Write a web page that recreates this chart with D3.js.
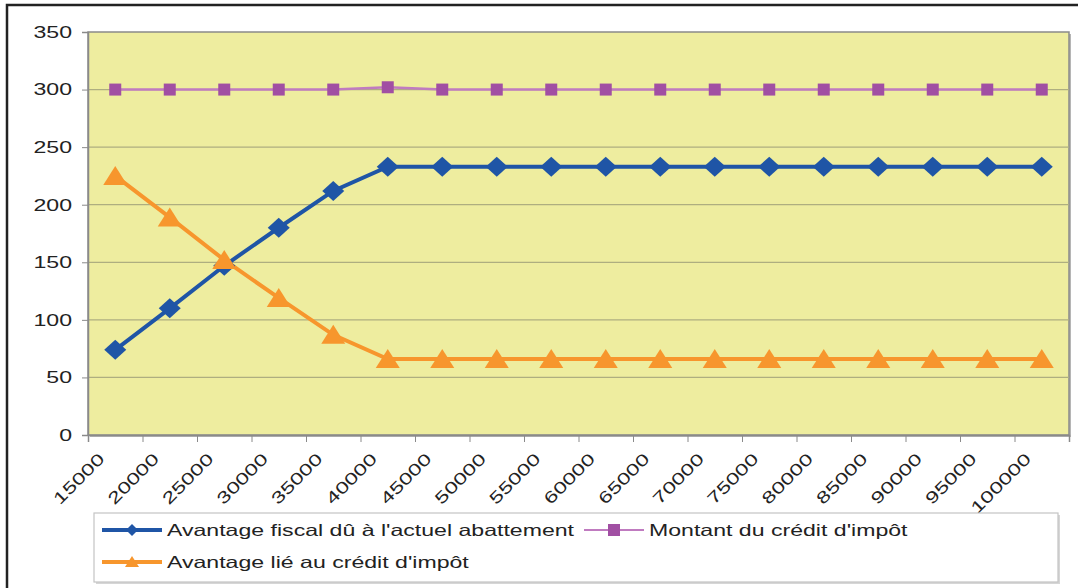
<!DOCTYPE html>
<html>
<head>
<meta charset="utf-8">
<script src="https://cdn.jsdelivr.net/npm/d3@7"></script>
<style>
  body { margin: 0; background: #fff; }
  svg { display: block; font-family: "Liberation Sans", Arial, sans-serif; }
  .axis text { fill: #222; font-size: 16.5px; }
  .axis line, .axis path { stroke: #8a8a8a; }
</style>
</head>
<body>
<svg id="chart" width="1078" height="588"></svg>
<script>
// categories (revenu) and the three series
var categories = ["15000","20000","25000","30000","35000","40000","45000","50000","55000",
                  "60000","65000","70000","75000","80000","85000","90000","95000","100000"];
var abattement = [74, 110, 147, 180, 212, 233, 233, 233, 233, 233, 233, 233, 233, 233, 233, 233, 233, 233];
var montantCredit = [300, 300, 300, 300, 300, 302, 300, 300, 300, 300, 300, 300, 300, 300, 300, 300, 300, 300];
var avantageCredit = [225, 189, 152, 119, 87, 66, 66, 66, 66, 66, 66, 66, 66, 66, 66, 66, 66, 66];
var yTicks = [0, 50, 100, 150, 200, 250, 300, 350];

var seriesNames = ["Avantage fiscal dû à l'actuel abattement", "Montant du crédit d'impôt", "Avantage lié au crédit d'impôt"];

var plot = {left: 88, right: 1069, top: 32, bottom: 435};
var stretch = "scale(1.4,1)"; // the original text is rendered wide

var svg = d3.select("#chart");

// outer frame
svg.append("rect")
  .attr("x", 7).attr("y", 5)
  .attr("width", 1100).attr("height", 620)
  .style("fill", "none").style("stroke", "#222").style("stroke-width", 2.5);

// scales
var x = d3.scaleLinear().domain([0, categories.length]).range([plot.left, plot.right]);
var y = d3.scaleLinear().domain([0, 350]).range([plot.bottom, plot.top]);

// plot area background
svg.append("rect")
  .attr("x", plot.left + 2).attr("y", plot.top + 2)
  .attr("width", plot.right - plot.left).attr("height", plot.bottom - plot.top)
  .style("fill", "#b5b5b5");
svg.append("rect")
  .attr("x", plot.left).attr("y", plot.top)
  .attr("width", plot.right - plot.left).attr("height", plot.bottom - plot.top)
  .style("fill", "#eeed9f").style("stroke", "#8a8a8a").style("stroke-width", 1.5);

// gridlines
svg.append("g").selectAll("line")
  .data(yTicks.filter(function(d) { return d > 0 && d < 350; }))
  .enter().append("line")
  .attr("x1", plot.left).attr("x2", plot.right)
  .attr("y1", function(d) { return y(d); })
  .attr("y2", function(d) { return y(d); })
  .style("stroke", "#aeae80").style("stroke-width", 1.2);

// y axis
var yAxis = d3.axisLeft(y).tickValues(yTicks).tickSize(6).tickPadding(10);
var gy = svg.append("g")
  .attr("class", "axis")
  .attr("transform", "translate(" + plot.left + ",0)")
  .call(yAxis);
gy.select(".domain").style("stroke-width", 1.5);
gy.selectAll("text")
  .attr("x", 0)
  .attr("transform", "translate(-16,0) " + stretch);

// x axis : ticks on category boundaries
var xAxis = d3.axisBottom(x)
  .tickValues(d3.range(categories.length + 1))
  .tickSize(7)
  .tickFormat(function(d) { return d < categories.length ? categories[d] : ""; });
var gx = svg.append("g")
  .attr("class", "axis")
  .attr("transform", "translate(0," + plot.bottom + ")")
  .call(xAxis);
gx.select(".domain").style("stroke-width", 1.5);
gx.selectAll("text")
  .attr("y", 0).attr("dy", 0)
  .style("text-anchor", "end")
  .attr("transform", "translate(17,25) rotate(-45) " + stretch);

var cx = function(d, i) { return x(i + 0.5); };

var lineGen = d3.line().x(cx).y(function(d) { return y(d); });

var colors = {blue: "#1f55a6", purpleLine: "#c07bc0", purple: "#a14fa3", orange: "#f7962d"};

// series lines
svg.append("path").datum(montantCredit).attr("d", lineGen)
  .style("fill", "none").style("stroke", colors.purpleLine).style("stroke-width", 2.5);
svg.append("path").datum(abattement).attr("d", lineGen)
  .style("fill", "none").style("stroke", colors.blue).style("stroke-width", 4);
svg.append("path").datum(avantageCredit).attr("d", lineGen)
  .style("fill", "none").style("stroke", colors.orange).style("stroke-width", 4);

// markers
var diamond = "M0,-10L11,0L0,10L-11,0Z";
var triangle = "M0,-10L12,9L-12,9Z";

svg.append("g").selectAll("rect")
  .data(montantCredit).enter().append("rect")
  .attr("x", function(d, i) { return cx(d, i) - 6; })
  .attr("y", function(d) { return y(d) - 6; })
  .attr("width", 12).attr("height", 12)
  .style("fill", colors.purple);

svg.append("g").selectAll("path")
  .data(abattement).enter().append("path")
  .attr("d", diamond)
  .attr("transform", function(d, i) { return "translate(" + cx(d, i) + "," + y(d) + ")"; })
  .style("fill", colors.blue);

svg.append("g").selectAll("path")
  .data(avantageCredit).enter().append("path")
  .attr("d", triangle)
  .attr("transform", function(d, i) { return "translate(" + cx(d, i) + "," + y(d) + ")"; })
  .style("fill", colors.orange);

// legend
svg.append("rect")
  .attr("x", 96).attr("y", 515).attr("width", 964).attr("height", 69)
  .style("fill", "#d6d6d6");
svg.append("rect")
  .attr("x", 94).attr("y", 513).attr("width", 964).attr("height", 69)
  .style("fill", "#fff").style("stroke", "#c4c4c4").style("stroke-width", 1.2);

var legendItems = [
  {name: seriesNames[0], x: 102, y: 530, color: colors.blue, w: 4, marker: "M0,-6L6,0L0,6L-6,0Z"},
  {name: seriesNames[1], x: 584, y: 530, color: colors.purpleLine, w: 2, marker: "M-6,-6L6,-6L6,6L-6,6Z", mcolor: colors.purple},
  {name: seriesNames[2], x: 102, y: 562, color: colors.orange, w: 4, marker: "M0,-6L7,5L-7,5Z"}
];

var lg = svg.append("g").selectAll("g").data(legendItems).enter().append("g")
  .attr("transform", function(d) { return "translate(" + d.x + "," + d.y + ")"; });
lg.append("line").attr("x1", 0).attr("x2", 60)
  .style("stroke", function(d) { return d.color; })
  .style("stroke-width", function(d) { return d.w; });
lg.append("path").attr("d", function(d) { return d.marker; })
  .attr("transform", "translate(30,0)")
  .style("fill", function(d) { return d.mcolor || d.color; });
lg.append("text")
  .attr("transform", "translate(65,6) " + stretch)
  .style("font-size", "16.5px").style("fill", "#222")
  .text(function(d) { return d.name; });
</script>
</body>
</html>
